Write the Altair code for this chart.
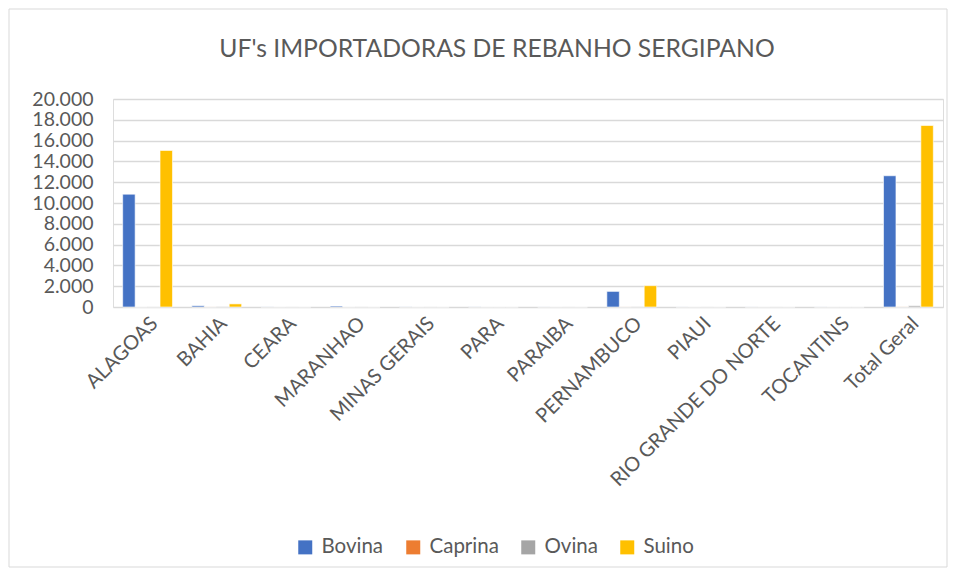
import altair as alt
import pandas as pd

states = ["ALAGOAS", "BAHIA", "CEARA", "MARANHAO", "MINAS GERAIS", "PARA",
          "PARAIBA", "PERNAMBUCO", "PIAUI", "RIO GRANDE DO NORTE", "TOCANTINS", "Total Geral"]
species = ["Bovina", "Caprina", "Ovina", "Suino"]
colors = ["#4472C4", "#ED7D31", "#A5A5A5", "#FFC000"]

bovina = [10850, 120, 10, 90, 10, 10, 5, 1500, 5, 5, 5, 12620]
caprina = [0, 5, 0, 0, 0, 0, 0, 5, 0, 0, 0, 10]
ovina = [10, 30, 5, 10, 5, 0, 5, 20, 5, 5, 0, 120]
suino = [15050, 300, 0, 0, 0, 0, 0, 2050, 0, 0, 0, 17450]

y_ticks = [0, 2000, 4000, 6000, 8000, 10000, 12000, 14000, 16000, 18000, 20000]
title_text = "UF's IMPORTADORAS DE REBANHO SERGIPANO"

rows = []
for i, s in enumerate(states):
    for sp, vals in zip(species, [bovina, caprina, ovina, suino]):
        rows.append({"UF": s, "Rebanho": sp, "Valor": vals[i]})
df = pd.DataFrame(rows)

FONT = "Lato"
GRAY = "#595959"

bars = alt.Chart(df).mark_bar(stroke="white", strokeWidth=0.6).encode(
    x=alt.X("UF:N", sort=states,
            scale=alt.Scale(paddingInner=0.28, paddingOuter=0.14),
            axis=alt.Axis(title=None, labelAngle=-45, labelAlign="right",
                          labelBaseline="top", ticks=False, domain=False,
                          labelFontSize=20, labelColor=GRAY, labelFont=FONT,
                          labelPadding=6, labelLimit=400)),
    xOffset=alt.XOffset("Rebanho:N", sort=species, scale=alt.Scale(paddingInner=0, paddingOuter=0)),
    y=alt.Y("Valor:Q", scale=alt.Scale(domain=[0, 20000], nice=False),
            axis=alt.Axis(title=None, values=y_ticks, ticks=False, domain=False,
                          labelExpr="replace(format(datum.value, ','), ',', '.')",
                          labelFontSize=19.5, labelColor=GRAY, labelFont=FONT,
                          labelPadding=20, gridColor="#D9D9D9", gridWidth=1.3)),
    color=alt.Color("Rebanho:N", sort=species,
                    scale=alt.Scale(domain=species, range=colors),
                    legend=alt.Legend(title=None, orient="none", direction="horizontal",
                                      legendX=182, legendY=438, symbolType="square",
                                      symbolSize=196, symbolStrokeWidth=0,
                                      labelFontSize=20.5, labelColor=GRAY, labelFont=FONT,
                                      columnPadding=19, labelOffset=6)),
)

border = alt.Chart(pd.DataFrame({"a": [0]})).mark_rect(
    fill=None, stroke="#D9D9D9", strokeWidth=1
).encode(x=alt.value(-104), x2=alt.value(834), y=alt.value(-90), y2=alt.value(468))

title = alt.Chart(pd.DataFrame({"t": [title_text]})).mark_text(
    font=FONT, fontSize=24.7, color=GRAY, align="center", baseline="alphabetic"
).encode(text="t:N", x=alt.value(384), y=alt.value(-42))

chart = alt.layer(border, title, bars).properties(
    width=830, height=208,
    autosize=alt.AutoSizeParams(type="none"),
    padding={"left": 105, "top": 91, "right": 5, "bottom": 261},
).configure_view(stroke=None).configure(background="white")

chart.save("out.html", embed_options={"renderer": "svg", "actions": False})
